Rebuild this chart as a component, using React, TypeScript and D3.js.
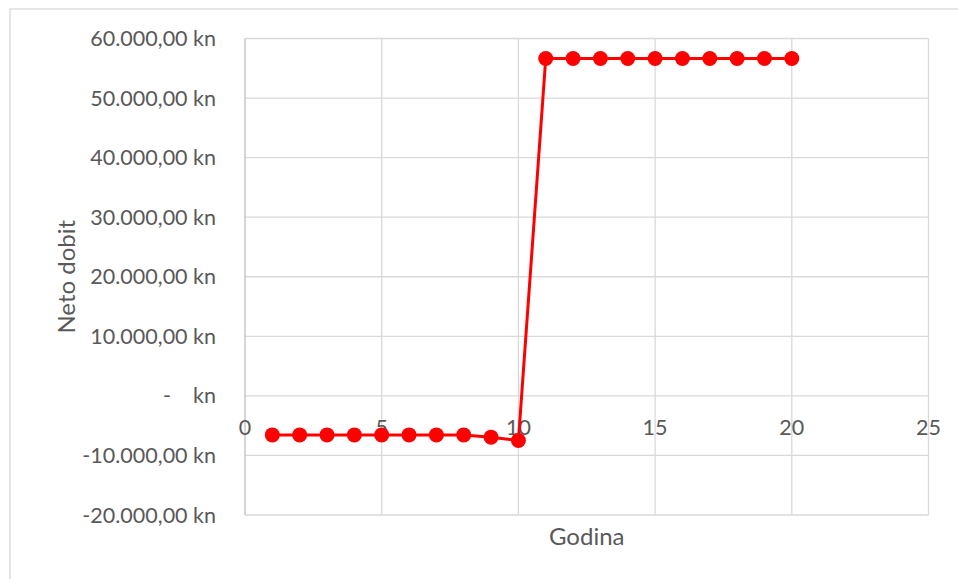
import React from "react";
import * as d3 from "d3";

const years = [1, 2, 3, 4, 5, 6, 7, 8, 9, 10, 11, 12, 13, 14, 15, 16, 17, 18, 19, 20];
const netProfit = [
  -6550, -6550, -6550, -6550, -6550, -6550, -6550, -6550, -6930, -7500,
  56650, 56650, 56650, 56650, 56650, 56650, 56650, 56650, 56650, 56650,
];
const xTicks = [0, 5, 10, 15, 20, 25];
const yTicks = [-20000, -10000, 0, 10000, 20000, 30000, 40000, 50000, 60000];

const fmt = (v: number) => {
  if (v === 0) return "-    kn";
  const s = d3.format(",.2f")(Math.abs(v)).replace(/,/g, "#").replace(".", ",").replace(/#/g, ".");
  return (v < 0 ? "-" : "") + s + " kn";
};

export default function App() {
  const W = 958, H = 579;
  const left = 245, right = 928.5, top = 38.5, bottom = 515;
  const x = d3.scaleLinear().domain([0, 25]).range([left, right]);
  const y = d3.scaleLinear().domain([-20000, 60000]).range([bottom, top]);
  const line = d3.line<number>().x((_, i) => x(years[i])).y((d) => y(d));
  const font = "Lato, 'Open Sans', sans-serif";
  const txt = "#595959";
  return (
    <svg width={W} height={H} style={{ position: "absolute", left: 0, top: 0 }} fontFamily={font}>
      <rect x={0} y={0} width={W} height={H} fill="#fff" />
      <rect x={10} y={9} width={W + 10} height={H + 10} fill="#fff" stroke="#d9d9d9" strokeWidth={1.3} />
      {yTicks.map((t) => (
        <line key={"hy" + t} x1={left} x2={right} y1={y(t)} y2={y(t)} stroke="#d9d9d9" strokeWidth={1.3} />
      ))}
      {xTicks.map((t) => (
        <line key={"vx" + t} x1={x(t)} x2={x(t)} y1={top} y2={bottom} stroke={t === 0 ? "#bfbfbf" : "#d9d9d9"} strokeWidth={1.3} />
      ))}
      {yTicks.map((t) => (
        <text key={"ly" + t} x={216} y={y(t)} dy="0.35em" textAnchor="end" fontSize={21.5} fill={txt} style={{ whiteSpace: "pre" }}>
          {fmt(t)}
        </text>
      ))}
      {xTicks.map((t) => (
        <text key={"lx" + t} x={x(t)} y={y(0) + 39} textAnchor="middle" fontSize={21.5} fill={txt}>
          {t}
        </text>
      ))}
      <path d={line(netProfit) || ""} fill="none" stroke="#ff0000" strokeWidth={3} />
      {netProfit.map((v, i) => (
        <circle key={"p" + i} cx={x(years[i])} cy={y(v)} r={7.5} fill="#ff0000" />
      ))}
      <text x={(left + right) / 2} y={545} textAnchor="middle" fontSize={24} fill={txt}>
        Godina
      </text>
      <text transform={`translate(75,${(top + bottom) / 2}) rotate(-90)`} textAnchor="middle" fontSize={24} fill={txt}>
        Neto dobit
      </text>
    </svg>
  );
}
